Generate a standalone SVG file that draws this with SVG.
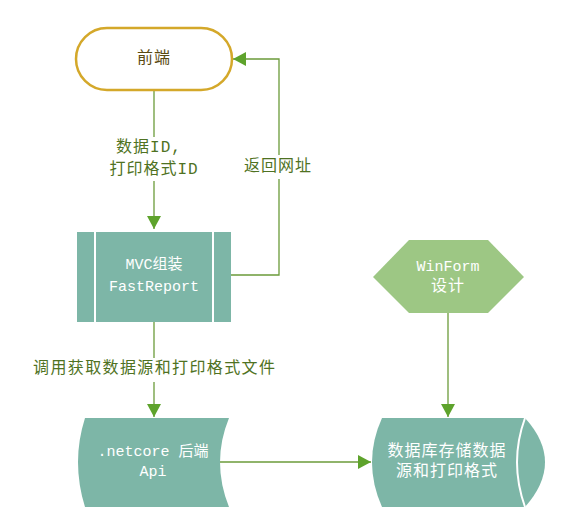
<svg xmlns="http://www.w3.org/2000/svg" width="562" height="522" viewBox="0 0 562 522">
<style>
text{font-family:"Liberation Mono","Noto Sans CJK SC",monospace;font-size:15px;text-anchor:middle;dominant-baseline:central}
.cjk{font-size:16px;letter-spacing:1px}
.w{fill:#ffffff}
.lbl{fill:#4f7222}
.ln{fill:none;stroke:#6b9b3a;stroke-width:1.3}
.teal{fill:#7db6a7}
</style>
<defs>
<marker id="ah" markerUnits="userSpaceOnUse" markerWidth="14" markerHeight="14" refX="13" refY="7" orient="auto">
<path d="M0,0 L13,7 L0,14 Z" fill="#5ea32c"/>
</marker>
</defs>
<rect width="562" height="522" fill="#ffffff"/>
<g id="connectors">
<path class="ln" d="M154,91 V229" marker-end="url(#ah)"/>
<rect x="104" y="137" width="100" height="44" fill="#ffffff"/>
<text class="lbl cjk" x="149" y="148">数据ID,</text>
<text class="lbl cjk" x="154" y="170">打印格式ID</text>
<path class="ln" d="M231,275 H279 V59 H233" marker-end="url(#ah)"/>
<rect x="240" y="155" width="76" height="24" fill="#ffffff"/>
<text class="lbl cjk" x="278" y="167">返回网址</text>
<path class="ln" d="M154,322 V417" marker-end="url(#ah)"/>
<rect x="28" y="358" width="252" height="24" fill="#ffffff"/>
<text class="lbl" x="154" y="369" style="font-size:16px" textLength="242" lengthAdjust="spacing">调用获取数据源和打印格式文件</text>
<path class="ln" d="M448,313 V417" marker-end="url(#ah)"/>
<path class="ln" d="M220,462 H371" marker-end="url(#ah)"/>
</g>
<g id="frontend">
<rect x="76" y="28" width="156" height="62" rx="31" fill="#ffffff" stroke="#d4a82a" stroke-width="2.5"/>
<text class="cjk" x="154" y="59" fill="#5a4a10">前端</text>
</g>
<g id="mvc">
<rect x="77" y="232" width="154" height="90" class="teal"/>
<line x1="95" y1="232" x2="95" y2="322" stroke="#ffffff" stroke-width="2"/>
<line x1="213" y1="232" x2="213" y2="322" stroke="#ffffff" stroke-width="2"/>
<text class="w" x="154" y="265">MVC组装</text>
<text class="w" x="154" y="287">FastReport</text>
</g>
<g id="winform">
<polygon points="409,240 488,240 524,277 488,313 409,313 373,277" fill="#9dc784"/>
<text class="w" x="448" y="267">WinForm</text>
<text class="w cjk" x="448" y="287">设计</text>
</g>
<g id="api">
<path d="M85,418 H229 Q211,462 229,507 H85 Q71,462 85,418 Z" class="teal"/>
<text class="w" x="153" y="452">.netcore 后端</text>
<text class="w" x="153" y="472">Api</text>
</g>
<g id="db">
<path d="M382,418 H525 Q565,462 525,507 H382 Q362,462 382,418 Z" class="teal"/>
<path d="M525,418 Q509,462 525,507" fill="none" stroke="#ffffff" stroke-width="2"/>
<text class="w cjk" x="447" y="452">数据库存储数据</text>
<text class="w cjk" x="447" y="472">源和打印格式</text>
</g>
</svg>
